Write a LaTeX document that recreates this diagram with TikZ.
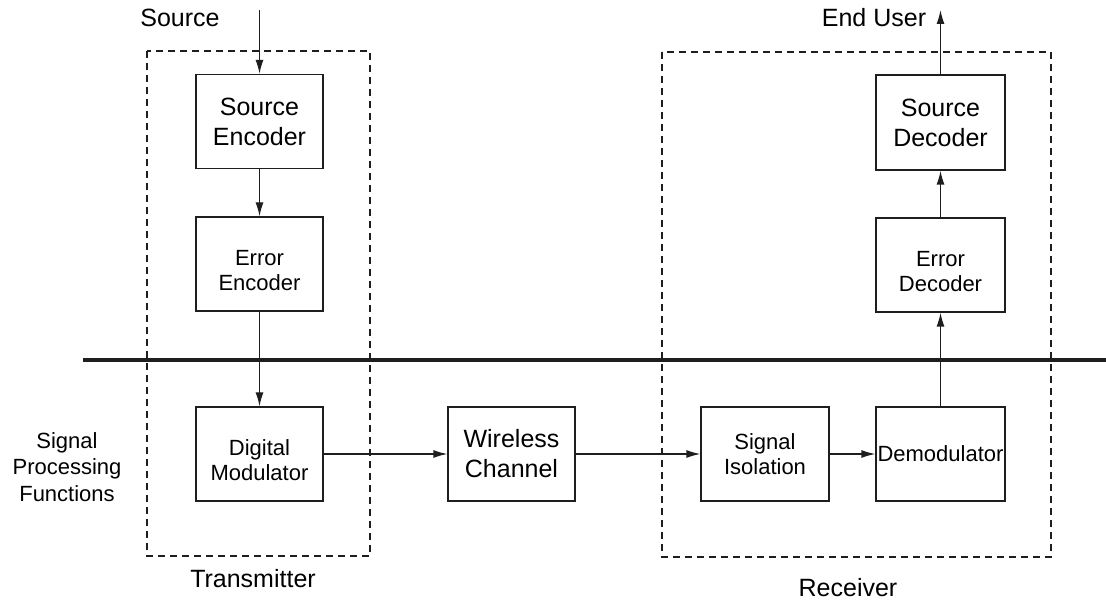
\documentclass[tikz,border=0pt]{standalone}
\usepackage{fontspec}
\setmainfont{Liberation Sans}
\usetikzlibrary{arrows.meta}
\definecolor{ink}{HTML}{1E1E1E}
\newcommand{\lowstrut}{\rule{0pt}{28pt}}
\tikzset{
  blk/.style={draw=ink, line width=1.3pt, minimum width=127pt, minimum height=94pt, inner sep=0pt, align=center},
  bigtxt/.style={font=\fontsize{25}{30}\selectfont},
  smalltxt/.style={font=\fontsize{22}{25}\selectfont},
  sidetxt/.style={font=\fontsize{22}{26.5}\selectfont},
  conn/.style={draw=ink, line width=1.3pt, -{Latex[length=14pt,width=8pt]}},
  grp/.style={draw=ink, line width=1.3pt, dash pattern=on 7pt off 5pt},
  lbl/.style={inner sep=0pt, anchor=base}
}
\begin{document}
\begin{tikzpicture}[x=1pt,y=-1pt]
\useasboundingbox (0,0) rectangle (1106,601);
% group boxes
\draw[grp] (147,51) rectangle (370,556);
\draw[grp] (662,52) rectangle (1051,557);
% separator
\draw[line width=4pt, ink] (83,360) -- (1106,360);
% blocks
\node[blk, bigtxt]   (senc)  at (259.5,121.5) {Source\\Encoder};
\node[blk, smalltxt] (eenc)  at (259.5,264) {\lowstrut Error\\Encoder};
\node[blk, smalltxt] (dmod)  at (259.5,454) {\lowstrut Digital\\Modulator};
\node[blk, bigtxt]   (wch)   at (511.5,454) {Wireless\\Channel};
\node[blk, smalltxt, minimum width=128pt] (siso) at (765,454) {Signal\\Isolation};
\node[blk, smalltxt, minimum width=129pt] (demod) at (940.5,454) {Demodulator};
\node[blk, smalltxt, minimum width=129pt] (edec) at (940.5,265) {\lowstrut Error\\Decoder};
\node[blk, bigtxt, minimum width=129pt, minimum height=95pt] (sdec) at (940.5,122.5) {Source\\Decoder};
% labels
\node[lbl, bigtxt] (srclbl) at (180,27) {Source};
\node[lbl, bigtxt] (endlbl) at (874,27) {End User};
\node[lbl, bigtxt] (txlbl) at (253,587) {Transmitter};
\node[lbl, bigtxt] (rxlbl) at (848,596) {Receiver};
\node[sidetxt, align=center, inner sep=0pt] (splbl) at (67,467) {Signal\\Processing\\Functions};
% free ends
\coordinate (srcin) at (259.5,10);
\coordinate (userout) at (940.5,10);
% connectors
\draw[conn] (srcin) -- (senc.north);
\draw[conn] (senc.south) -- (eenc.north);
\draw[conn] (eenc.south) -- (dmod.north);
\draw[conn] (dmod.east) -- (wch.west);
\draw[conn] (wch.east) -- (siso.west);
\draw[conn] (siso.east) -- (demod.west);
\draw[conn] (demod.north) -- (edec.south);
\draw[conn] (edec.north) -- (sdec.south);
\draw[conn] (sdec.north) -- (userout);
\end{tikzpicture}
\end{document}
